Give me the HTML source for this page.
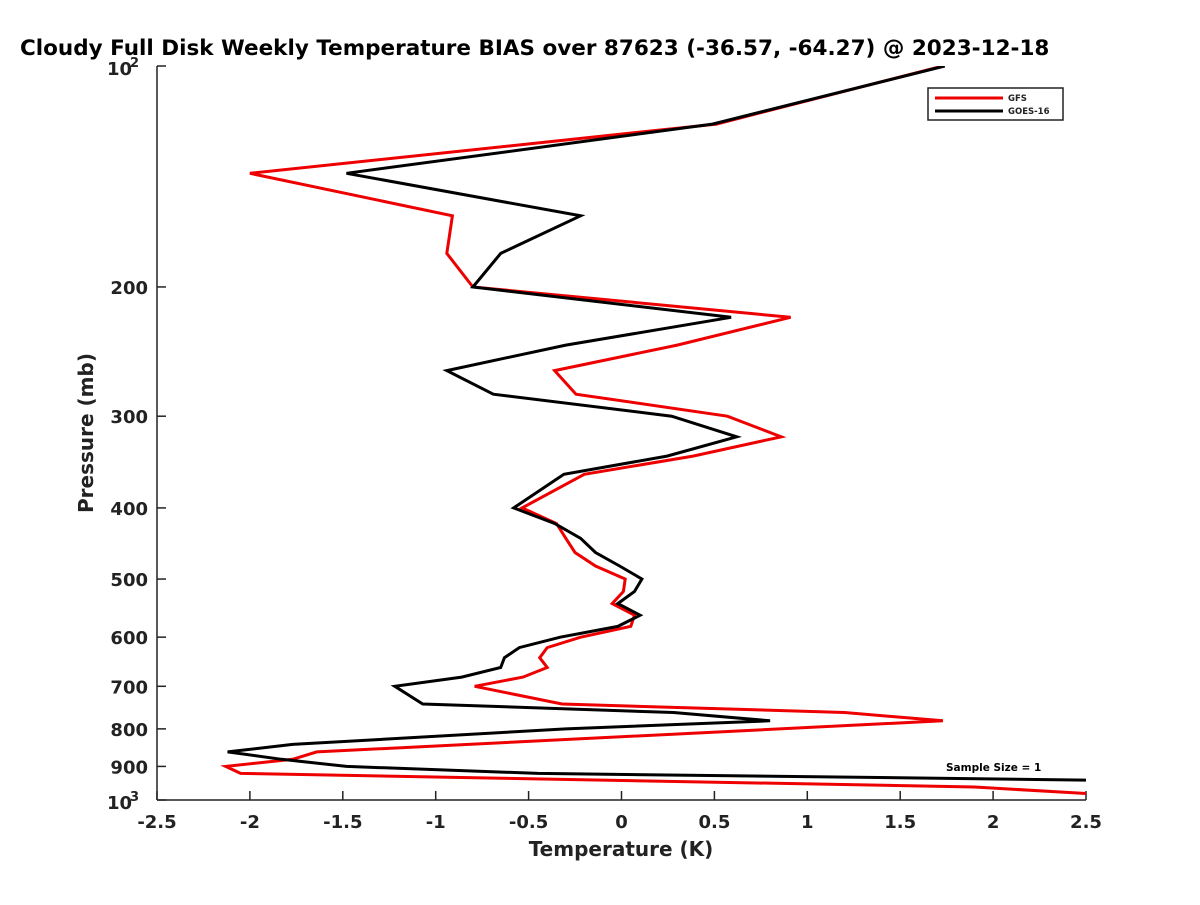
<!DOCTYPE html>
<html><head><meta charset="utf-8"><style>
body{margin:0;background:#fff;}
svg text{font-family:"DejaVu Sans","Liberation Sans",sans-serif;font-weight:bold;fill:#222;}
</style></head><body>
<svg id="c" width="1200" height="900" viewBox="0 0 1200 900" xmlns="http://www.w3.org/2000/svg">
<rect width="1200" height="900" fill="#fff"/>
<text x="20" y="55" font-size="21.5" style="fill:#000">Cloudy Full Disk Weekly Temperature BIAS over 87623 (-36.57, -64.27) @ 2023-12-18</text>
<defs><clipPath id="plotclip"><rect x="157" y="66" width="929" height="734"/></clipPath></defs>
<g id="axes"></g>
<g id="series" clip-path="url(#plotclip)"></g>
<g>
<rect x="928" y="88" width="135" height="32" fill="#fff" stroke="#222" stroke-width="1.5"/>
<line x1="935" y1="98" x2="1003" y2="98" stroke="#e00" stroke-width="3"/>
<text x="1008" y="101" font-size="8.5">GFS</text>
<line x1="935" y1="111" x2="1003" y2="111" stroke="#000" stroke-width="3"/>
<text x="1008" y="114" font-size="8.5">GOES-16</text>
</g>
<text x="946" y="771" font-size="10.5" style="fill:#000">Sample Size = 1</text>
<text x="621" y="856" font-size="20" text-anchor="middle">Temperature (K)</text>
<text transform="translate(93,433) rotate(-90)" font-size="20" text-anchor="middle">Pressure (mb)</text>
</svg>
<script>
const xTicks=[-2.5,-2,-1.5,-1,-0.5,0,0.5,1,1.5,2,2.5];
const xTickLabels=["-2.5","-2","-1.5","-1","-0.5","0","0.5","1","1.5","2","2.5"];
const yTicks=[200,300,400,500,600,700,800,900];
const pGFS=[100,120,140,160,180,200,220,240,260,280,300,320,340,360,400,420,440,460,480,500,520,540,560,580,600,620,640,660,680,700,740,760,780,860,880,900,920,960,1000];
const tGFS=[1.73,0.51,-2.0,-0.91,-0.94,-0.8,0.91,0.3,-0.36,-0.245,0.57,0.86,0.385,-0.2,-0.535,-0.35,-0.3,-0.25,-0.14,0.02,0.01,-0.05,0.07,0.05,-0.22,-0.4,-0.44,-0.4,-0.53,-0.79,-0.32,1.2,1.73,-1.64,-1.77,-2.13,-2.05,1.9,3.09];
const pGOES=[100,120,140,160,180,200,220,240,260,280,300,320,340,360,400,420,440,460,480,500,520,540,560,580,600,620,640,660,680,700,740,760,780,800,840,860,880,900,920,940];
const tGOES=[1.74,0.49,-1.48,-0.22,-0.65,-0.8,0.59,-0.3,-0.94,-0.69,0.27,0.62,0.245,-0.31,-0.58,-0.36,-0.22,-0.14,-0.01,0.11,0.07,-0.02,0.1,-0.02,-0.33,-0.55,-0.63,-0.65,-0.86,-1.22,-1.07,0.28,0.8,-0.3,-1.77,-2.12,-1.83,-1.48,-0.45,2.6];
const NS="http://www.w3.org/2000/svg";
const X0=157,X1=1086,Y0=66,Y1=800;
function xs(t){return X0+(t+2.5)/5*(X1-X0);}
function ys(p){return Y0+Math.log10(p/100)*(Y1-Y0);}
function mk(tag,attrs,parent){const e=document.createElementNS(NS,tag);for(const k in attrs)e.setAttribute(k,attrs[k]);parent.appendChild(e);return e;}
const ax=document.getElementById('axes');
const xl=mk('line',{x1:X0,y1:Y1,x2:X1,y2:Y1,stroke:'#222','stroke-width':1.5},ax);


const yl=mk('line',{x1:X0,y1:Y0,x2:X0,y2:Y1,stroke:'#222','stroke-width':1.5},ax);


xTicks.forEach((t,i)=>{
  const x=xs(t);
  mk('line',{x1:x,y1:Y1,x2:x,y2:Y1-9,stroke:'#222','stroke-width':1.5},ax);
  const tx=mk('text',{x:x,y:828,'font-size':18,'text-anchor':'middle'},ax);
  tx.textContent=xTickLabels[i];
  
  
});
[100,1000].concat(yTicks).forEach(p=>{
  const y=ys(p);
  mk('line',{x1:X0,y1:y,x2:X0+9,y2:y,stroke:'#222','stroke-width':1.5},ax);
});
yTicks.forEach(p=>{
  const tx=mk('text',{x:148,y:ys(p)+7,'font-size':18,'text-anchor':'end'},ax);
  tx.textContent=String(p);
  
  
});
[[100,'2'],[1000,'3']].forEach(([p,e])=>{
  const tx=mk('text',{x:107,y:ys(p)+9,'font-size':18},ax);
  tx.textContent='10';
  
  
  const sp=mk('text',{x:130,y:ys(p)+1,'font-size':13},ax);
  sp.textContent=e;
  
  
});
const sg=document.getElementById('series');
function drawSeries(ps,ts,color,name){
  const pts=ps.map((p,i)=>xs(ts[i]).toFixed(1)+','+ys(p).toFixed(1)).join(' ');
  const pl=mk('polyline',{points:pts,fill:'none',stroke:color,'stroke-width':3,'stroke-linejoin':'miter'},sg);
  
  
}
drawSeries(pGFS,tGFS,'#e00','gfs-line');
drawSeries(pGOES,tGOES,'#000','goes16-line');
</script>
</body></html>
